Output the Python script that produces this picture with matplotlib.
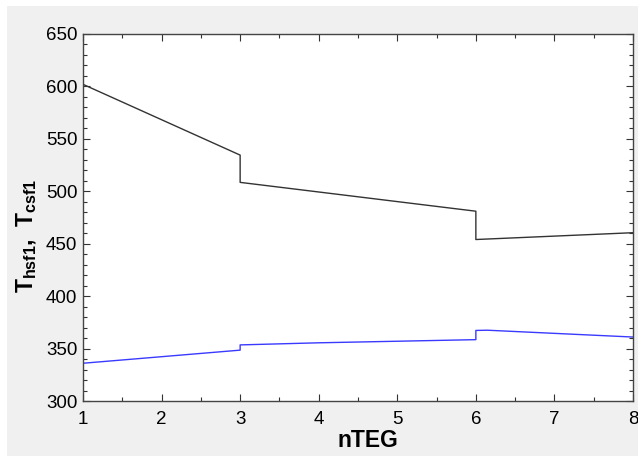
import numpy as np
import matplotlib
matplotlib.use('Agg')
import matplotlib.pyplot as plt
from matplotlib.patches import Rectangle
from matplotlib.ticker import MultipleLocator

plt.rcParams['font.family'] = 'Liberation Sans'
plt.rcParams['mathtext.fontset'] = 'custom'
plt.rcParams['mathtext.bf'] = 'Liberation Sans:bold'
plt.rcParams['mathtext.rm'] = 'Liberation Sans'

# hot side (black) and cold side (blue) temperatures vs nTEG
n_hot = [1, 3, 3, 6, 6, 8]
t_hot = [602, 534.5, 508.5, 481, 454, 460.5]

n_cold = [1, 3, 3, 4, 5, 6, 6, 6.15, 7, 8]
t_cold = [336, 348.5, 353.5, 355.5, 357, 358.5, 367.3, 367.5, 364.5, 361]

fig = plt.figure(figsize=(6.38, 4.57), dpi=100, facecolor='white')
fig.patches.append(Rectangle((7/638, 1/457), 631/638, 450/457, transform=fig.transFigure,
                             facecolor='#f0f0f0', edgecolor='none', zorder=-10))
ax = fig.add_axes([83/638, 56/457, 550/638, 367/457])

ax.plot(n_hot, t_hot, color='#333333', lw=1.0)
ax.plot(n_cold, t_cold, color='#3a3aff', lw=1.0)

ax.set_xlim(1, 8)
ax.set_ylim(300, 650)
ax.xaxis.set_major_locator(MultipleLocator(1))
ax.xaxis.set_minor_locator(MultipleLocator(0.5))
ax.yaxis.set_major_locator(MultipleLocator(50))
ax.yaxis.set_minor_locator(MultipleLocator(10))
ax.tick_params(which='both', direction='in', top=True, right=True, labelsize=13.5, colors='#333333')
ax.tick_params(which='major', length=5, width=0.8)
ax.tick_params(which='minor', length=3, width=0.8)
ax.tick_params(axis='x', pad=7, labelcolor='black')
ax.tick_params(axis='y', pad=4, labelcolor='black')
for s in ax.spines.values():
    s.set_color('#444444')
    s.set_linewidth(1.0)

ax.set_xlabel('nTEG', fontsize=16.5, fontweight='bold')
ax.xaxis.set_label_coords(0.518, -0.075)
ax.set_ylabel(r'$\mathbf{T_{hsf1},\ T_{csf1}}$', fontsize=16.5)
ax.yaxis.set_label_coords(-0.08, 0.45)

fig.savefig('out.png', dpi=100, facecolor=fig.get_facecolor())
